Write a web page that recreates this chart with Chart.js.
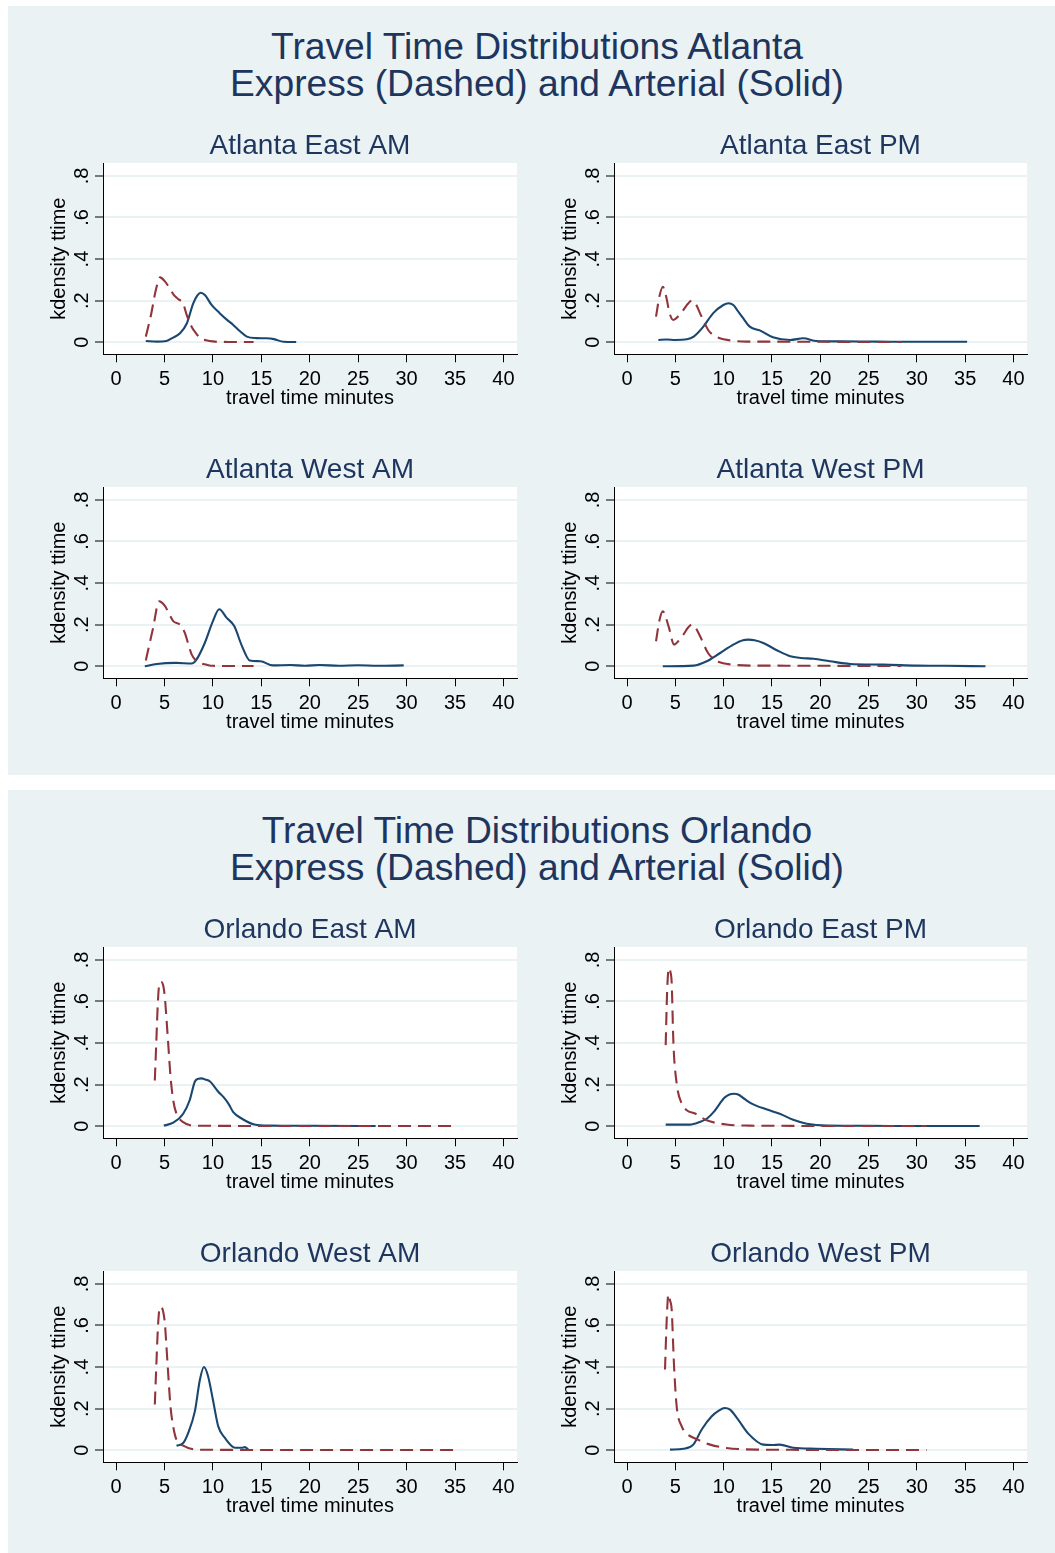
<!DOCTYPE html>
<html><head><meta charset="utf-8">
<script src="https://cdn.jsdelivr.net/npm/chart.js@4.4.1/dist/chart.umd.min.js"></script>
<style>
html,body{margin:0;padding:0;background:#fff;width:1055px;height:1553px;overflow:hidden;position:relative;font-family:"Liberation Sans",Arial,sans-serif}
.panel{position:absolute;left:8px;width:1047px;background:#eaf2f3}
.title{position:absolute;left:0;width:1074px;text-align:center;color:#1e355e;font-size:37.2px;line-height:37.5px;white-space:nowrap}
canvas{position:absolute}
</style></head><body>
<div class="panel" style="top:6px;height:769px"></div>
<div class="panel" style="top:790px;height:763px"></div>
<div class="title" style="top:27.5px">Travel Time Distributions Atlanta<br>Express (Dashed) and Arterial (Solid)</div>
<div class="title" style="top:811.5px">Travel Time Distributions Orlando<br>Express (Dashed) and Arterial (Solid)</div>
<canvas id="c1" width="490" height="292" style="left:40px;top:120px"></canvas>
<canvas id="c2" width="490" height="292" style="left:551px;top:120px"></canvas>
<canvas id="c3" width="490" height="292" style="left:40px;top:444px"></canvas>
<canvas id="c4" width="490" height="292" style="left:551px;top:444px"></canvas>
<canvas id="c5" width="490" height="292" style="left:40px;top:904px"></canvas>
<canvas id="c6" width="490" height="292" style="left:551px;top:904px"></canvas>
<canvas id="c7" width="490" height="292" style="left:40px;top:1228px"></canvas>
<canvas id="c8" width="490" height="292" style="left:551px;top:1228px"></canvas>
<script>
// ---- tick values and labels ----
const xTickValues = [0, 5, 10, 15, 20, 25, 30, 35, 40];
const xTickLabels = ['0', '5', '10', '15', '20', '25', '30', '35', '40'];
const yTickValues = [0, 0.2, 0.4, 0.6, 0.8];
const yTickLabels = ['0', '.2', '.4', '.6', '.8'];
const subTitles = ['Atlanta East AM', 'Atlanta East PM', 'Atlanta West AM', 'Atlanta West PM',
                   'Orlando East AM', 'Orlando East PM', 'Orlando West AM', 'Orlando West PM'];

// ---- Atlanta East AM ----
const atlEastAM_expX = [3.07, 3.6, 4.1, 4.55, 5.0, 5.5, 6.0, 6.5, 6.9, 7.3, 7.8, 8.3, 8.7, 9.3, 10, 11, 12, 13, 14.2];
const atlEastAM_expY = [0.027, 0.13, 0.25, 0.312, 0.295, 0.262, 0.225, 0.205, 0.19, 0.13, 0.075, 0.04, 0.019, 0.01, 0.004, 0.002, 0.001, 0.001, 0.001];
const atlEastAM_artX = [3.07, 4.2, 5.2, 5.8, 6.6, 7.3, 7.97, 8.4, 8.75, 9.17, 9.86, 10.7, 11.4, 12.1, 12.8, 13.5, 14.5, 15.5, 16.3, 17.3, 18.6];
const atlEastAM_artY = [0.006, 0.003, 0.006, 0.02, 0.043, 0.09, 0.187, 0.225, 0.238, 0.227, 0.18, 0.14, 0.11, 0.083, 0.053, 0.027, 0.02, 0.019, 0.015, 0.002, 0.001];

// ---- Atlanta East PM ----
const atlEastPM_expX = [3.0, 3.35, 3.7, 4.05, 4.4, 4.8, 5.3, 5.83, 6.3, 6.7, 7.1, 7.56, 8.0, 8.4, 9.0, 9.6, 10.5, 12.4, 15, 18, 21, 24, 26, 28.4];
const atlEastPM_expY = [0.123, 0.22, 0.267, 0.22, 0.14, 0.107, 0.125, 0.155, 0.185, 0.2, 0.185, 0.139, 0.095, 0.059, 0.032, 0.019, 0.01, 0.003, 0.003, 0.002, 0.002, 0.001, 0.001, 0.001];
const atlEastPM_artX = [3.24, 4.1, 5.0, 6.2, 6.9, 7.9, 8.9, 9.97, 10.5, 11.0, 11.4, 11.9, 12.7, 13.8, 15.1, 16.9, 18.25, 19.6, 22, 26, 30, 35.2];
const atlEastPM_artY = [0.011, 0.013, 0.011, 0.014, 0.027, 0.075, 0.139, 0.179, 0.1875, 0.179, 0.155, 0.123, 0.075, 0.056, 0.024, 0.011, 0.019, 0.006, 0.004, 0.003, 0.002, 0.002];

// ---- Atlanta West AM ----
const atlWestAM_expX = [3.07, 3.8, 4.45, 5.04, 5.5, 5.9, 6.6, 7.1, 7.5, 7.8, 8.2, 8.66, 9.3, 10.0, 12, 14.2];
const atlWestAM_expY = [0.028, 0.179, 0.312, 0.29, 0.25, 0.217, 0.2, 0.16, 0.1, 0.057, 0.03, 0.016, 0.008, 0.002, 0.001, 0.001];
const atlWestAM_artX = [2.97, 4.2, 6.2, 7.8, 8.3, 9.17, 10.0, 10.65, 11.4, 12.2, 13.0, 13.8, 14.9, 16.2, 18, 19.5, 21, 23, 25, 27, 29.7];
const atlWestAM_artY = [0.0, 0.011, 0.016, 0.013, 0.032, 0.113, 0.217, 0.274, 0.234, 0.193, 0.097, 0.028, 0.024, 0.004, 0.006, 0.002, 0.006, 0.002, 0.005, 0.002, 0.004];

// ---- Atlanta West PM ----
const atlWestPM_expX = [3.0, 3.35, 3.7, 4.3, 4.87, 5.3, 5.83, 6.3, 6.7, 7.1, 7.56, 8.4, 9.0, 9.6, 10.5, 12.7, 15, 18, 21, 24, 26, 28.4];
const atlWestPM_expY = [0.12, 0.22, 0.264, 0.192, 0.104, 0.12, 0.152, 0.185, 0.2, 0.185, 0.144, 0.0625, 0.035, 0.019, 0.01, 0.003, 0.003, 0.002, 0.002, 0.001, 0.001, 0.001];
const atlWestPM_artX = [3.7, 6.9, 8.25, 9.6, 11.0, 12.0, 12.55, 13.2, 14.1, 15.5, 16.9, 18.0, 19.3, 21.0, 23.1, 26.5, 30, 33, 37.1];
const atlWestPM_artY = [0.0, 0.003, 0.024, 0.0625, 0.104, 0.125, 0.128, 0.125, 0.112, 0.077, 0.048, 0.04, 0.036, 0.024, 0.011, 0.008, 0.003, 0.002, 0.0];

// ---- Orlando East AM ----
const orlEastAM_expX = [4.0, 4.15, 4.3, 4.45, 4.62, 4.85, 5.04, 5.2, 5.38, 5.62, 5.9, 6.24, 6.93, 8.3, 10, 15, 20, 25, 30, 35.2];
const orlEastAM_expY = [0.22, 0.40, 0.58, 0.68, 0.695, 0.68, 0.62, 0.52, 0.40, 0.24, 0.125, 0.06, 0.02, 0.002, 0.002, 0.001, 0.001, 0.001, 0.001, 0.001];
const orlEastAM_artX = [4.93, 5.9, 6.93, 7.6, 8.14, 8.5, 8.83, 9.2, 9.7, 10.55, 11.1, 11.6, 12.1, 13.0, 14.3, 15.9, 20, 26.8];
const orlEastAM_artY = [0.003, 0.017, 0.06, 0.125, 0.215, 0.228, 0.23, 0.225, 0.215, 0.166, 0.14, 0.109, 0.068, 0.036, 0.008, 0.003, 0.002, 0.001];

// ---- Orlando East PM ----
const orlEastPM_expX = [4.0, 4.15, 4.33, 4.5, 4.62, 4.8, 5.14, 5.66, 6.18, 7.04, 8.25, 10.3, 12.7, 16, 20, 25, 31.0];
const orlEastPM_expY = [0.39, 0.65, 0.76, 0.74, 0.69, 0.40, 0.205, 0.109, 0.077, 0.061, 0.029, 0.008, 0.003, 0.002, 0.001, 0.001, 0.001];
const orlEastPM_artX = [4.0, 6.5, 7.5, 8.25, 9.0, 9.6, 10.1, 10.6, 11.1, 11.5, 12.2, 12.9, 14.5, 15.8, 17.2, 18.6, 20.7, 25, 30, 36.5];
const orlEastPM_artY = [0.008, 0.008, 0.02, 0.036, 0.07, 0.109, 0.138, 0.153, 0.156, 0.153, 0.13, 0.109, 0.08, 0.06, 0.031, 0.012, 0.003, 0.002, 0.001, 0.001];

// ---- Orlando West AM ----
const orlWestAM_expX = [4.0, 4.15, 4.3, 4.45, 4.62, 4.85, 5.04, 5.2, 5.38, 5.62, 5.9, 6.24, 6.93, 8.3, 10, 15, 20, 25, 30, 35.2];
const orlWestAM_expY = [0.22, 0.40, 0.57, 0.67, 0.69, 0.67, 0.61, 0.50, 0.37, 0.21, 0.114, 0.05, 0.022, 0.003, 0.002, 0.001, 0.001, 0.001, 0.001, 0.001];
const orlWestAM_artX = [6.24, 6.93, 7.45, 8.14, 8.66, 9.07, 9.5, 10.0, 10.55, 11.24, 12.3, 13.0, 13.3, 13.65];
const orlWestAM_artY = [0.022, 0.035, 0.084, 0.188, 0.34, 0.40, 0.356, 0.243, 0.115, 0.059, 0.012, 0.012, 0.015, 0.003];

// ---- Orlando West PM ----
const orlWestPM_expX = [3.93, 4.1, 4.28, 4.45, 4.62, 4.87, 5.14, 5.66, 6.18, 7.38, 8.6, 10.3, 13.4, 17, 21, 25, 31.0];
const orlWestPM_expY = [0.388, 0.62, 0.75, 0.72, 0.676, 0.40, 0.21, 0.115, 0.08, 0.05, 0.027, 0.011, 0.003, 0.002, 0.001, 0.001, 0.001];
const orlWestPM_artX = [4.45, 5.83, 6.86, 7.73, 8.77, 9.5, 10.1, 10.66, 11.5, 12.55, 14.1, 15.0, 15.8, 17.2, 19.6, 23.4];
const orlWestPM_artY = [0.003, 0.007, 0.027, 0.10, 0.163, 0.19, 0.203, 0.195, 0.147, 0.08, 0.027, 0.025, 0.027, 0.012, 0.007, 0.003];

// ---- styling ----
const FONT = '"Liberation Sans", Arial, sans-serif';
const TITLE_COLOR = '#1e355e';
const EXP_COLOR = '#90353b';
const ART_COLOR = '#1a476f';
const GRID_COLOR = '#eaf2f3';

const zip = (xs, ys) => xs.map((x, i) => ({x: x, y: ys[i]}));

const plotBg = {
  id: 'plotBg',
  beforeDraw(chart) {
    const a = chart.chartArea, ctx = chart.ctx;
    ctx.save();
    ctx.fillStyle = '#ffffff';
    ctx.fillRect(a.left, a.top, a.right - a.left, a.bottom - a.top);
    ctx.restore();
  }
};

function makeChart(id, title, expX, expY, artX, artY, rightPad) {
  new Chart(document.getElementById(id), {
    type: 'scatter',
    data: {
      datasets: [
        {label: 'Express', data: zip(expX, expY), showLine: true, borderColor: EXP_COLOR, borderWidth: 2.1,
         borderDash: [13, 7], pointRadius: 0, cubicInterpolationMode: 'monotone', fill: false},
        {label: 'Arterial', data: zip(artX, artY), showLine: true, borderColor: ART_COLOR, borderWidth: 2.1,
         pointRadius: 0, cubicInterpolationMode: 'monotone', fill: false}
      ]
    },
    options: {
      responsive: false, animation: false, devicePixelRatio: 1,
      layout: {padding: {left: 0, right: rightPad, top: 0, bottom: 0}},
      plugins: {
        legend: {display: false}, tooltip: {enabled: false},
        title: {display: true, text: title, fullSize: false, color: TITLE_COLOR,
                font: {family: FONT, size: 28, weight: 'normal', lineHeight: 1.2},
                padding: {top: 9.2, bottom: 0.2}}
      },
      scales: {
        x: {
          type: 'linear', min: -1.35, max: 41.4,
          afterBuildTicks: s => { s.ticks = xTickValues.map(v => ({value: v})); },
          afterFit: s => { s.height = 57.7; },
          grid: {drawOnChartArea: false, drawTicks: true, tickLength: 8, tickColor: '#000', tickWidth: 1},
          border: {display: true, color: '#000', width: 1},
          ticks: {font: {family: FONT, size: 20}, color: '#000', padding: 5.5, minRotation: 0, maxRotation: 0,
                  autoSkip: false, callback: (v, i) => xTickLabels[i]},
          title: {display: true, text: 'travel time minutes', color: '#000',
                  font: {family: FONT, size: 20, lineHeight: 1.2}, padding: {top: 0, bottom: 1.5}}
        },
        y: {
          type: 'linear', min: -0.058, max: 0.862,
          afterBuildTicks: s => { s.ticks = yTickValues.map(v => ({value: v})); },
          afterFit: s => { s.width = 63; },
          grid: {color: GRID_COLOR, lineWidth: 2, drawTicks: true, tickLength: 8, tickColor: '#000', tickWidth: 1},
          border: {display: true, color: '#000', width: 1},
          ticks: {font: {family: FONT, size: 20}, color: '#000', padding: 4, minRotation: 90, maxRotation: 90,
                  crossAlign: 'center', autoSkip: false, callback: (v, i) => yTickLabels[i]},
          title: {display: true, text: 'kdensity ttime', color: '#000',
                  font: {family: FONT, size: 20, lineHeight: 1.2}, padding: {top: 7, bottom: 0}}
        }
      }
    },
    plugins: [plotBg]
  });
}

makeChart('c1', subTitles[0], atlEastAM_expX, atlEastAM_expY, atlEastAM_artX, atlEastAM_artY, 13);
makeChart('c2', subTitles[1], atlEastPM_expX, atlEastPM_expY, atlEastPM_artX, atlEastPM_artY, 14);
makeChart('c3', subTitles[2], atlWestAM_expX, atlWestAM_expY, atlWestAM_artX, atlWestAM_artY, 13);
makeChart('c4', subTitles[3], atlWestPM_expX, atlWestPM_expY, atlWestPM_artX, atlWestPM_artY, 14);
makeChart('c5', subTitles[4], orlEastAM_expX, orlEastAM_expY, orlEastAM_artX, orlEastAM_artY, 13);
makeChart('c6', subTitles[5], orlEastPM_expX, orlEastPM_expY, orlEastPM_artX, orlEastPM_artY, 14);
makeChart('c7', subTitles[6], orlWestAM_expX, orlWestAM_expY, orlWestAM_artX, orlWestAM_artY, 13);
makeChart('c8', subTitles[7], orlWestPM_expX, orlWestPM_expY, orlWestPM_artX, orlWestPM_artY, 14);
</script>
</body></html>
